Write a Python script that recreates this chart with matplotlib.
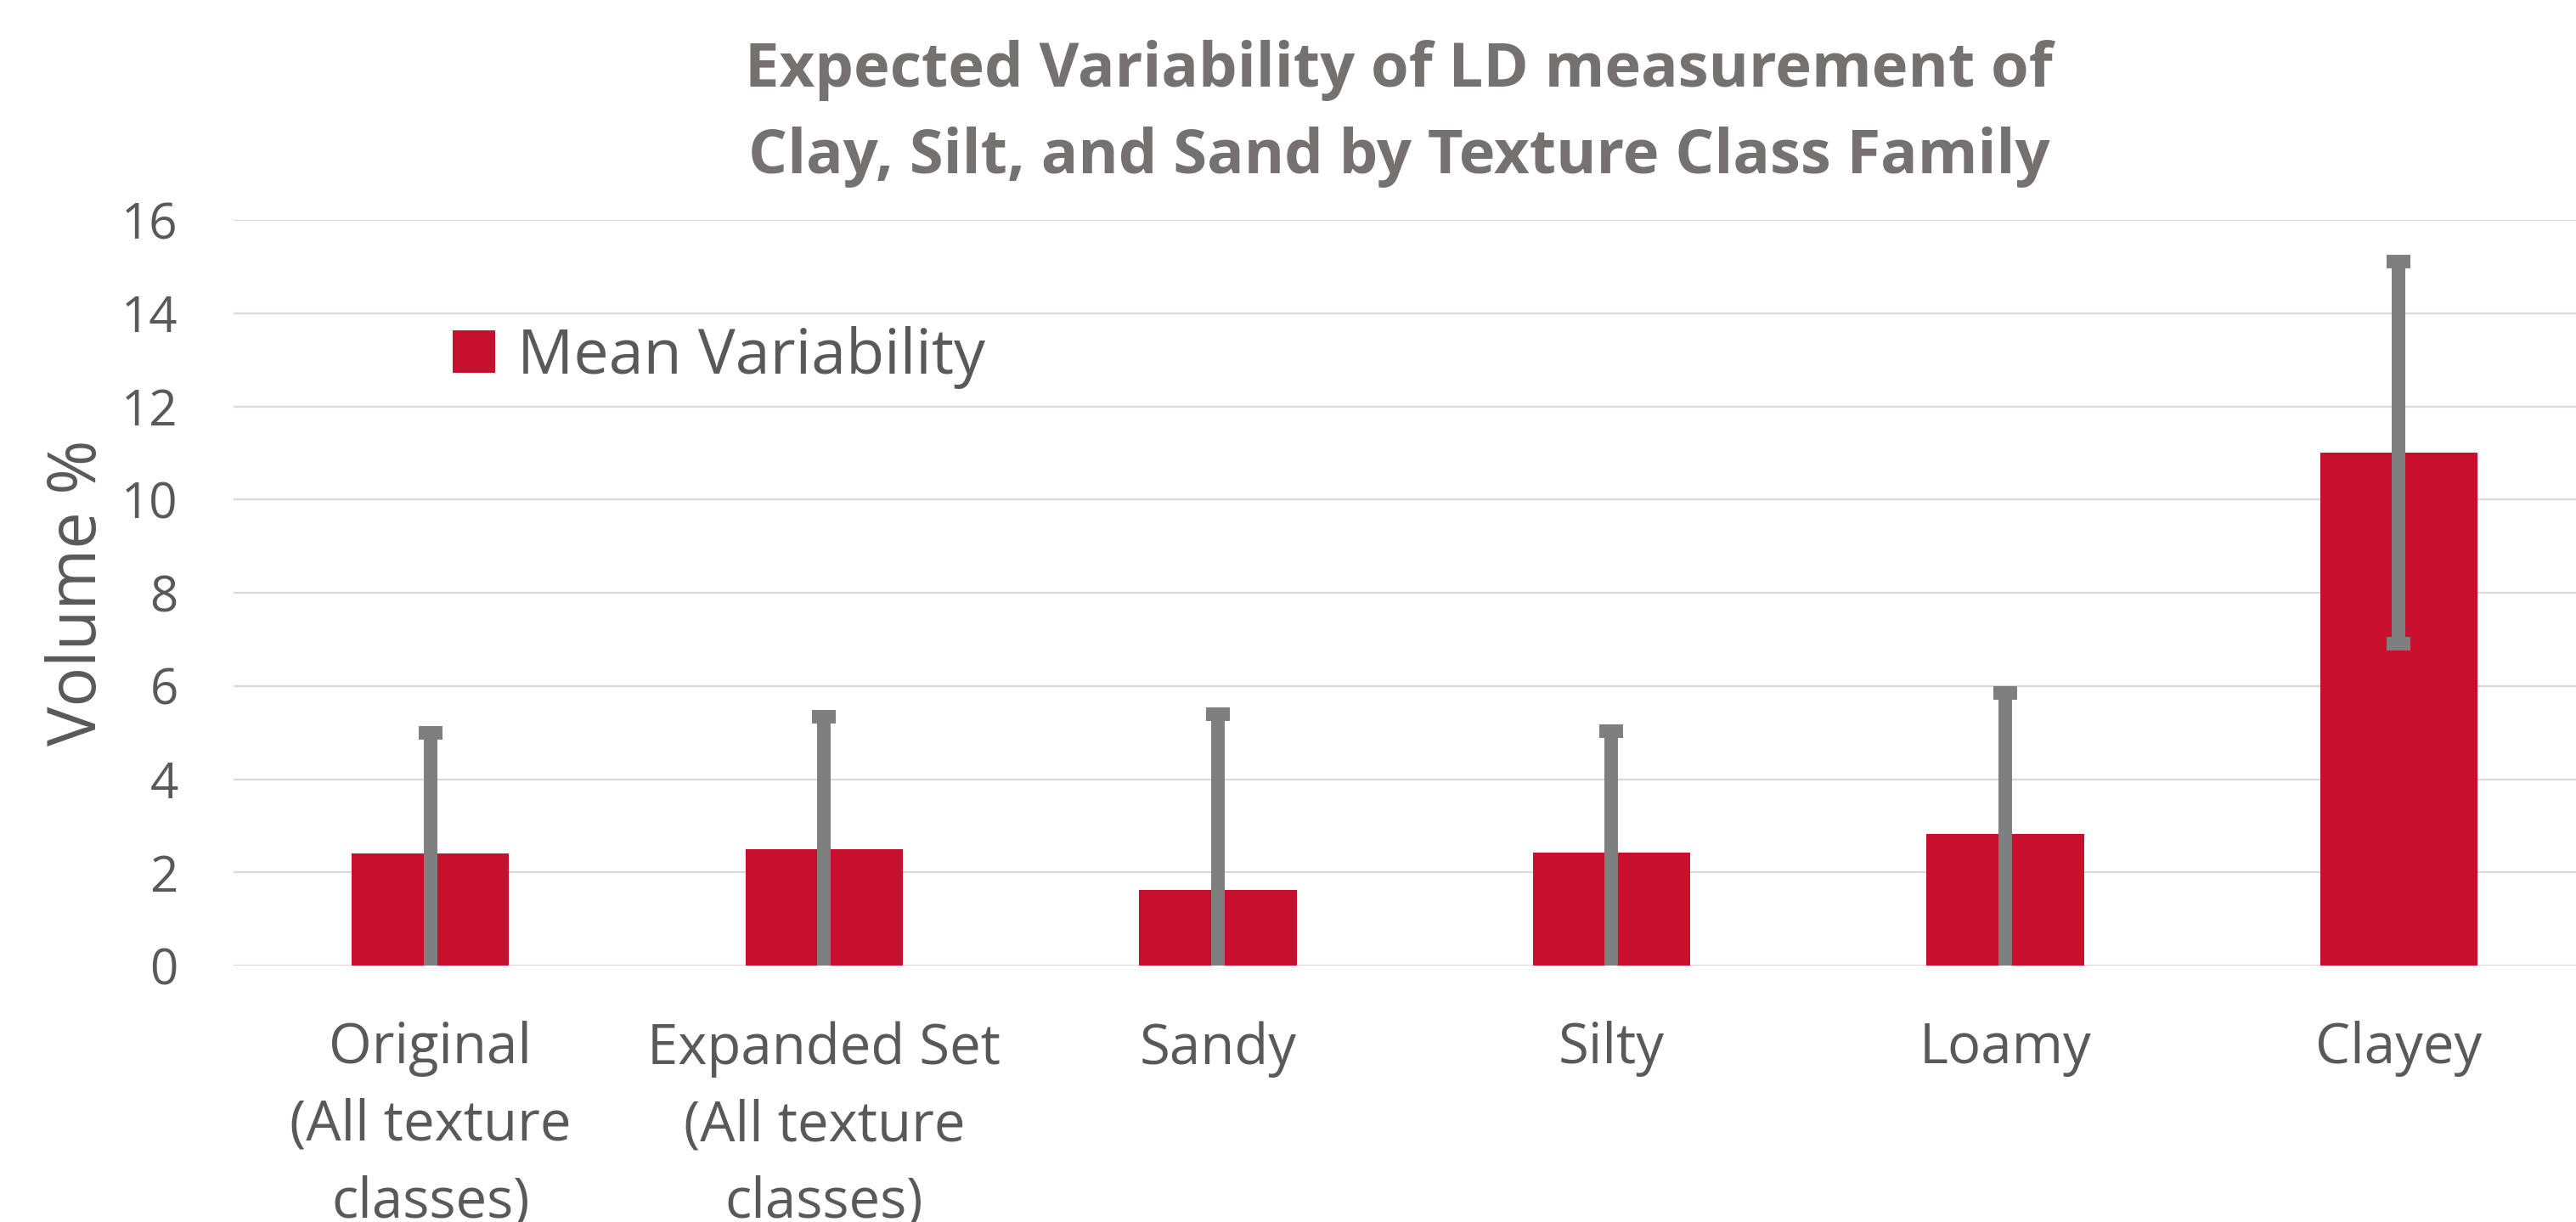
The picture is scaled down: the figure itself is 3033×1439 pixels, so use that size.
import matplotlib
matplotlib.use("Agg")
import matplotlib.pyplot as plt
import numpy as np

categories = ["Original\n(All texture\nclasses)", "Expanded Set\n(All texture\nclasses)",
              "Sandy", "Silty", "Loamy", "Clayey"]
mean_variability = [2.40, 2.50, 1.63, 2.43, 2.83, 11.0]
error_values = [2.60, 2.84, 3.76, 2.60, 3.02, 4.10]
yticks = [0, 2, 4, 6, 8, 10, 12, 14, 16]

plt.rcParams['font.family'] = ['Open Sans', 'DejaVu Sans']

W, H = 3033, 1439
fig = plt.figure(figsize=(W / 100, H / 100), dpi=100)
ax = fig.add_axes([275 / W, 1 - 1137 / H, 1 - 275 / W, (1137 - 259) / H])

x = np.arange(len(categories))
bars = ax.bar(x, mean_variability, width=0.40, color="#C8102E", zorder=2,
              label="Mean Variability")
ax.errorbar(x, mean_variability, yerr=error_values, fmt='none', ecolor="#7F7F7F",
            elinewidth=11.5, capsize=10, capthick=11.5, zorder=3)

ax.set_xlim(-0.5, 5.45)
ax.set_ylim(0, 16)
ax.set_yticks(yticks)
ax.set_yticklabels([str(v) for v in yticks])
ax.grid(axis='y', color="#D9D9D9", linewidth=1.6, zorder=0)
ax.set_axisbelow(True)
for s in ax.spines.values():
    s.set_visible(False)
ax.tick_params(axis='both', length=0, colors="#595959")
ax.tick_params(axis='y', labelsize=42, pad=47)
ax.set_xticks(x)
ax.set_xticklabels(categories, fontsize=47, linespacing=1.49)
ax.tick_params(axis='x', pad=47)

fig.text(93 / W, 1 - 698 / H, "Volume %", rotation=90, ha='center', va='center',
         fontsize=56, color="#595959")

fig.text(0.543, 1 - 134 / H, "Expected Variability of LD measurement of\nClay, Silt, and Sand by Texture Class Family",
         ha='center', va='center', fontsize=52, fontweight='bold', color="#767171",
         linespacing=1.56)

leg = ax.legend(loc='center left', bbox_to_anchor=(533 / W, 1 - 421 / H),
                bbox_transform=fig.transFigure, frameon=False, fontsize=53,
                handlelength=0.68, handleheight=0.68, handletextpad=0.35,
                borderpad=0, borderaxespad=0)
for t in leg.get_texts():
    t.set_color("#595959")

fig.savefig("out.png", dpi=100)
